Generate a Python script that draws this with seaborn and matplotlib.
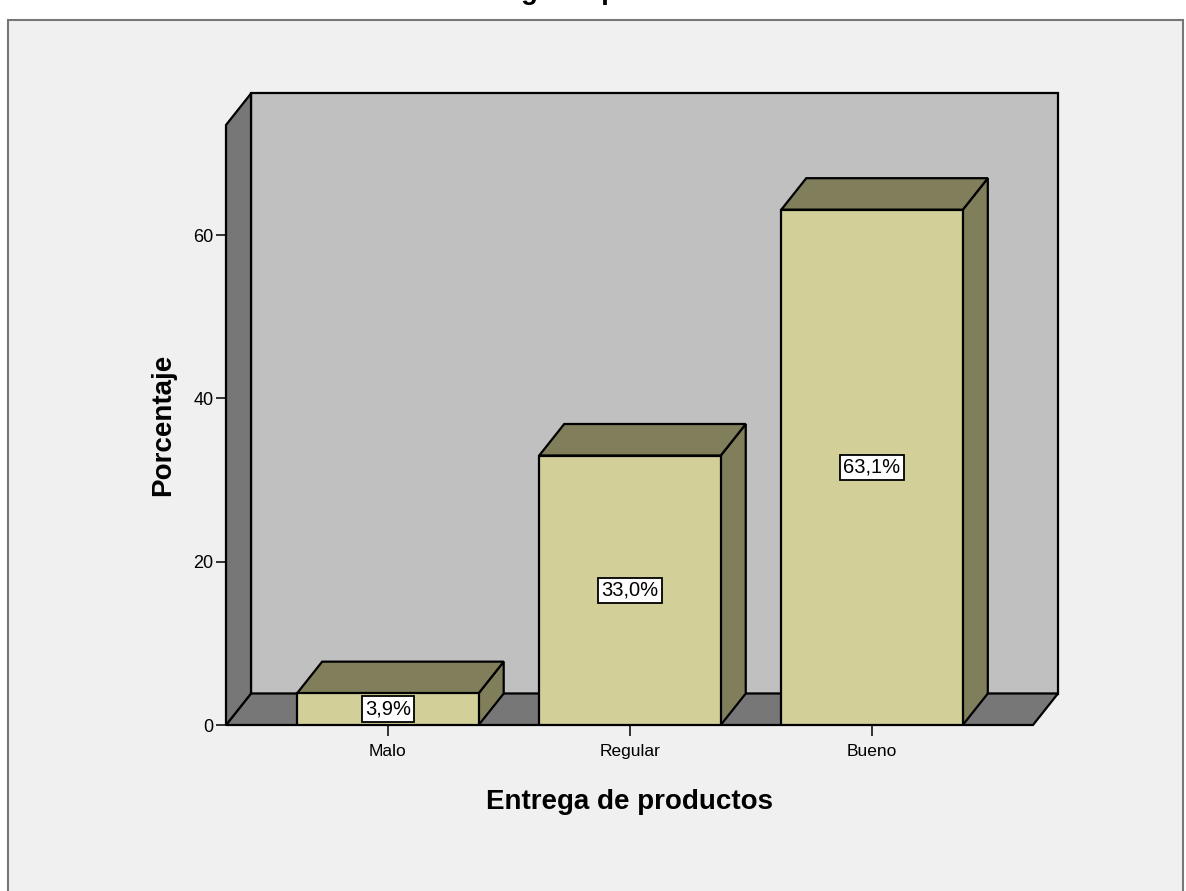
import matplotlib
matplotlib.use("Agg")
import matplotlib.pyplot as plt
from matplotlib.patches import Polygon, Rectangle
import seaborn as sns
import pandas as pd

# Data
categories = ["Malo", "Regular", "Bueno"]
percentages = [3.9, 33.0, 63.1]
value_labels = ["3,9%", "33,0%", "63,1%"]
y_ticks = [0, 20, 40, 60]

sns.set_theme(style="white")
plt.rcParams["font.family"] = ["Liberation Sans", "DejaVu Sans"]
plt.rcParams["text.color"] = "black"
plt.rcParams["axes.labelcolor"] = "black"
plt.rcParams["xtick.color"] = "black"
plt.rcParams["ytick.color"] = "black"

W, H = 1186, 891
fig = plt.figure(figsize=(W / 100, H / 100), dpi=100)
fig.patch.set_facecolor("white")

# Panel frame behind the chart
fig.patches.append(Rectangle((8 / W, -0.01), (1183 - 8) / W, (H - 20) / H + 0.01,
                             transform=fig.transFigure, facecolor="#F0F0F0",
                             edgecolor="#777777", linewidth=1.5, zorder=-5))

# Title, running off the top edge of the page
fig.text(0.5, 1.0 + 1 / H, "Entrega de productos", ha="center", va="baseline",
         fontsize=20, fontweight="bold", color="black")

left_px, right_px, bottom_px, top_px = 226, 1033, 725, 125
ax = fig.add_axes([left_px / W, (H - bottom_px) / H,
                   (right_px - left_px) / W, (bottom_px - top_px) / H])
ax.set_facecolor("none")

ymax = 73.47
xmin, xmax = -0.669, 2.665

df = pd.DataFrame({"cat": categories, "pct": percentages})
width = 0.75
sns.barplot(data=df, x="cat", y="pct", order=categories, color="#D3CF98",
            saturation=1, width=width, edgecolor="black", linewidth=1.6, ax=ax,
            zorder=3)
ax.set_xlim(xmin, xmax)
ax.set_ylim(0, ymax)

# Depth offset of the 3D effect, in data units
px_per_x = (right_px - left_px) / (xmax - xmin)
px_per_y = (bottom_px - top_px) / ymax
dx = 25 / px_per_x
dy = 31.5 / px_per_y

wall_kw = dict(edgecolor="black", linewidth=1.6, clip_on=False, joinstyle="miter")
# back wall
ax.add_patch(Polygon([(xmin + dx, dy), (xmax + dx, dy), (xmax + dx, ymax + dy),
                      (xmin + dx, ymax + dy)], facecolor="#C0C0C0", zorder=1, **wall_kw))
# floor
ax.add_patch(Polygon([(xmin, 0), (xmax, 0), (xmax + dx, dy), (xmin + dx, dy)],
                     facecolor="#777777", zorder=1.5, **wall_kw))
# left wall
ax.add_patch(Polygon([(xmin, 0), (xmin + dx, dy), (xmin + dx, ymax + dy), (xmin, ymax)],
                     facecolor="#777777", zorder=1.5, **wall_kw))

dark = "#817E5C"
for i, v in enumerate(percentages):
    x0, x1 = i - width / 2, i + width / 2
    # side face
    ax.add_patch(Polygon([(x1, 0), (x1 + dx, dy), (x1 + dx, v + dy), (x1, v)],
                         facecolor=dark, zorder=2.5, **wall_kw))
    # top face
    ax.add_patch(Polygon([(x0, v), (x1, v), (x1 + dx, v + dy), (x0 + dx, v + dy)],
                         facecolor=dark, zorder=2.5, **wall_kw))
    ax.text(i, v / 2, value_labels[i], ha="center", va="center", fontsize=14.5,
            color="black", zorder=5,
            bbox=dict(boxstyle="square,pad=0.16", facecolor="white",
                      edgecolor="black", linewidth=1.3))

for s in ax.spines.values():
    s.set_visible(False)

ax.set_yticks(y_ticks)
ax.set_yticklabels([str(t) for t in y_ticks])
ax.tick_params(axis="y", direction="out", length=7, width=1.3, color="#222222",
               labelsize=13, pad=2, left=True)
ax.tick_params(axis="x", direction="out", length=8, width=1.3, color="#222222",
               labelsize=12.5, pad=6, bottom=True)
ax.set_xlabel("Entrega de productos", fontsize=20, fontweight="bold", labelpad=21)
ax.set_ylabel("Porcentaje", fontsize=20, fontweight="bold", labelpad=12)
ax.grid(False)

fig.savefig("out.png", dpi=100, facecolor=fig.get_facecolor())
